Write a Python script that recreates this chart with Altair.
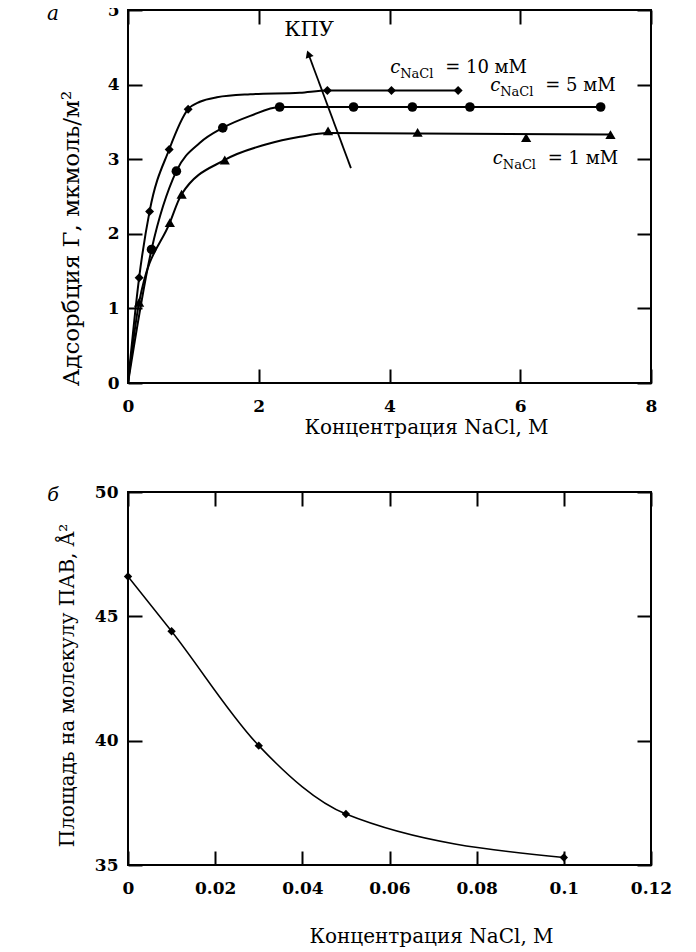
import altair as alt
import pandas as pd

FONT = "DejaVu Serif"
T = 14  # inward tick length (px)

# ---------------- panel a: adsorption vs NaCl ----------------
series_names = ["10", "5", "1"]
# measured points (markers)
x_10 = [0.17, 0.33, 0.63, 0.92, 3.05, 4.03, 5.05]
y_10 = [1.41, 2.30, 3.13, 3.67, 3.92, 3.92, 3.92]
x_5 = [0.36, 0.74, 1.45, 2.32, 3.45, 4.35, 5.23, 7.23]
y_5 = [1.79, 2.84, 3.42, 3.70, 3.70, 3.70, 3.70, 3.70]
x_1 = [0.17, 0.64, 0.82, 1.48, 3.06, 4.43, 6.09, 7.38]
y_1 = [1.08, 2.15, 2.53, 2.99, 3.38, 3.36, 3.29, 3.33]
# fitted curves as drawn in the figure
c10_x = [0, 0.17, 0.33, 0.63, 0.92, 1.10, 1.36, 1.87, 2.63, 3.05, 4.03, 5.05]
c10_y = [0, 1.41, 2.30, 3.13, 3.67, 3.77, 3.83, 3.87, 3.89, 3.92, 3.92, 3.92]
c5_x = [0, 0.36, 0.74, 1.10, 1.45, 1.87, 2.32, 7.23]
c5_y = [0, 1.79, 2.84, 3.22, 3.42, 3.58, 3.70, 3.70]
c1_x = [0, 0.17, 0.64, 0.82, 1.48, 2.12, 2.63, 3.06, 7.38]
c1_y = [0, 1.08, 2.15, 2.53, 2.99, 3.20, 3.30, 3.35, 3.33]

label_x = [4.01, 5.54, 5.58]
label_y = [4.16, 3.91, 2.94]
label_eq = ["= 10 мМ", "= 5 мМ", "= 1 мМ"]

arrow_x = [3.41, 2.76]
arrow_y = [2.88, 4.41]
kpu_x = [2.77]
kpu_y = [4.73]

xa_ticks = [0, 2, 4, 6, 8]
ya_ticks = [0, 1, 2, 3, 4, 5]

# ---------------- panel b: area per molecule ----------------
x_b = [0.0, 0.01, 0.03, 0.05, 0.10]
y_b = [46.6, 44.4, 39.8, 37.05, 35.3]
xb_ticks = [0, 0.02, 0.04, 0.06, 0.08, 0.1, 0.12]
yb_ticks = [35, 40, 45, 50]

W, H = 523, 373

# ---- tables ----
rows = []
for name, xs, ys in [("10", x_10, y_10), ("5", x_5, y_5), ("1", x_1, y_1)]:
    for xv, yv in zip(xs, ys):
        rows.append({"s": name, "x": xv, "y": yv})
pts_a = pd.DataFrame(rows)
crow = []
for name, xs, ys in [("10", c10_x, c10_y), ("5", c5_x, c5_y), ("1", c1_x, c1_y)]:
    for xv, yv in zip(xs, ys):
        crow.append({"s": name, "x": xv, "y": yv})
lines_a = pd.DataFrame(crow)
labels_a = pd.DataFrame({"x": label_x, "y": label_y, "eq": label_eq})
arrow_df = pd.DataFrame({"x": arrow_x, "y": arrow_y, "o": [0, 1]})
head_df = pd.DataFrame({"x": arrow_x[1:], "y": arrow_y[1:]})
kpu_df = pd.DataFrame({"x": kpu_x, "y": kpu_y, "t": ["КПУ"]})
df_b = pd.DataFrame({"x": x_b, "y": y_b})
tag_df = pd.DataFrame({"t": ["a"]})


def axis(orient, values, labels, title=None, title_x=None, title_y=None,
         label_pad=9, title_size=None):
    kw = dict(orient=orient, values=values, offset=-T, tickSize=T, tickWidth=2,
              tickColor="black", domain=False, grid=False, labels=labels,
              labelFlush=False, labelOverlap=False, labelPadding=label_pad,
              title=title, zindex=1,
              labelExpr="format(datum.value, '~g')")
    if title_x is not None:
        kw["titleX"] = title_x
    if title_y is not None:
        kw["titleY"] = title_y
    if title_size is not None:
        kw["titleFontSize"] = title_size
    return alt.Axis(**kw)


# ---------------- build panel a ----------------
xs_a = alt.Scale(domain=[0, 8], nice=False, zero=False)
ys_a = alt.Scale(domain=[0, 5], nice=False, zero=False)

lines_layer = alt.Chart(lines_a).mark_line(
    color="black", strokeWidth=2, interpolate="monotone"
).encode(
    x=alt.X("x:Q", scale=xs_a,
            axis=axis("bottom", xa_ticks, True, "Концентрация NaCl, М", 298, 48, 15)),
    y=alt.Y("y:Q", scale=ys_a,
            axis=axis("left", ya_ticks, True, "Адсорбция Γ, мкмоль/м²", -59, 228, 9, 23)),
    detail="s:N",
)

points_layer = alt.Chart(pts_a).mark_point(filled=True, color="black", opacity=1).encode(
    x=alt.X("x:Q", scale=xs_a, axis=axis("top", xa_ticks, False)),
    y=alt.Y("y:Q", scale=ys_a, axis=axis("right", ya_ticks, False)),
    shape=alt.Shape("s:N", scale=alt.Scale(domain=series_names,
                                           range=["diamond", "circle", "triangle-up"]),
                    legend=None),
    size=alt.Size("s:N", scale=alt.Scale(domain=series_names, range=[80, 105, 100]),
                  legend=None),
)

arrow_line = alt.Chart(arrow_df).mark_line(color="black", strokeWidth=1.8).encode(
    x=alt.X("x:Q", scale=xs_a, axis=None),
    y=alt.Y("y:Q", scale=ys_a, axis=None),
    order="o:Q",
)
arrow_head = alt.Chart(head_df).mark_point(
    shape="triangle-up", filled=True, color="black", opacity=1, size=70, angle=340
).encode(
    x=alt.X("x:Q", scale=xs_a, axis=None),
    y=alt.Y("y:Q", scale=ys_a, axis=None),
)
kpu_text = alt.Chart(kpu_df).mark_text(
    font=FONT, fontSize=21, color="black", align="center", baseline="middle"
).encode(
    x=alt.X("x:Q", scale=xs_a, axis=None),
    y=alt.Y("y:Q", scale=ys_a, axis=None),
    text="t:N",
)


def lab(txt, size, dx, dy, style="normal"):
    m = alt.Chart(labels_a).mark_text(
        font=FONT, fontSize=size, color="black", align="left", baseline="alphabetic",
        dx=dx, dy=dy, fontStyle=style,
    )
    return m.encode(
        x=alt.X("x:Q", scale=xs_a, axis=None),
        y=alt.Y("y:Q", scale=ys_a, axis=None),
        text=txt,
    )


lab_c = lab(alt.value("c"), 18, 0, 0, "italic")
lab_sub = lab(alt.value("NaCl"), 13, 10, 5)
lab_eq = lab("eq:N", 18, 55, 0)

tag_a = alt.Chart(tag_df).mark_text(
    font=FONT, fontSize=20, fontStyle="italic", color="black",
    align="center", baseline="middle"
).encode(x=alt.value(-75), y=alt.value(4), text=alt.value("а"))

top = alt.layer(
    lines_layer, points_layer, arrow_line, arrow_head, kpu_text,
    lab_c, lab_sub, lab_eq, tag_a
).resolve_axis(x="independent", y="independent").properties(width=W, height=H)

# ---------------- build panel b ----------------
xs_b = alt.Scale(domain=[0, 0.12], nice=False, zero=False)
ys_b = alt.Scale(domain=[35, 50], nice=False, zero=False)

line_b = alt.Chart(df_b).mark_line(
    color="black", strokeWidth=1.5, interpolate="monotone"
).encode(
    x=alt.X("x:Q", scale=xs_b,
            axis=axis("bottom", xb_ticks, True, "Концентрация NaCl, М", 303, 75, 15)),
    y=alt.Y("y:Q", scale=ys_b,
            axis=axis("left", yb_ticks, True, "Площадь на молекулу ПАВ, Å²", -65, 193, 10)),
)
pts_b = alt.Chart(df_b).mark_point(
    shape="diamond", filled=True, color="black", opacity=1, size=70
).encode(
    x=alt.X("x:Q", scale=xs_b, axis=axis("top", xb_ticks, False)),
    y=alt.Y("y:Q", scale=ys_b, axis=axis("right", yb_ticks, False)),
)
tag_b = alt.Chart(tag_df).mark_text(
    font=FONT, fontSize=19, fontStyle="italic", color="black",
    align="center", baseline="middle"
).encode(x=alt.value(-75), y=alt.value(3), text=alt.value("б"))

bottom = alt.layer(line_b, pts_b, tag_b).resolve_axis(
    x="independent", y="independent"
).properties(width=W, height=H)

chart = alt.vconcat(top, bottom, spacing=44).properties(
    padding={"left": 38, "top": -8, "right": 5, "bottom": 5}
).configure_view(
    stroke="black", strokeWidth=2
).configure_axis(
    labelFont=FONT, labelFontSize=17, labelFontWeight="bold", labelColor="black",
    titleFont=FONT, titleFontSize=20, titleFontWeight="normal", titleColor="black",
)

chart.save("out.html", embed_options={"renderer": "svg", "actions": False})
